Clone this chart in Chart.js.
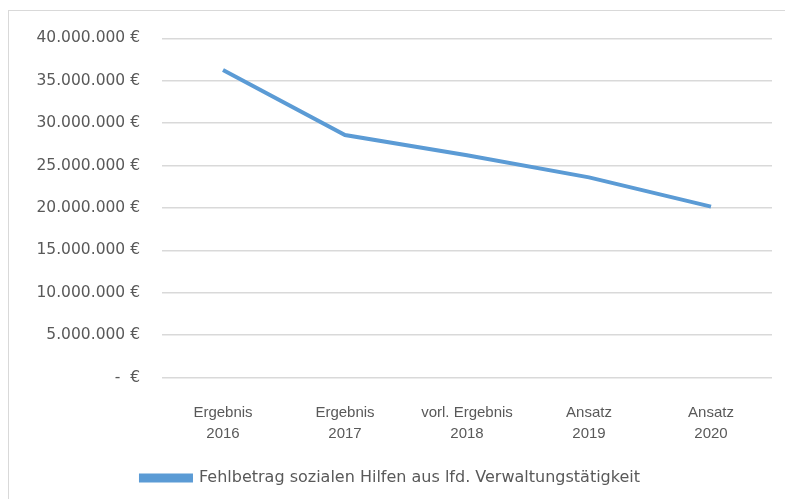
<!DOCTYPE html>
<html>
<head>
<meta charset="utf-8">
<script src="https://cdn.jsdelivr.net/npm/chart.js@4"></script>
<style>
  body { margin: 0; background: #fff; }
  #wrap {
    position: absolute; left: 8px; top: 10px;
    width: 777px; height: 489px;
    border-left: 1px solid #d9d9d9; border-top: 1px solid #d9d9d9;
  }
  canvas { display: block; margin-top: -4px; }
</style>
</head>
<body>
<div id="wrap"><canvas id="c" width="776" height="492"></canvas></div>
<script>
const categories = [
  ["Ergebnis", "2016"],
  ["Ergebnis", "2017"],
  ["vorl. Ergebnis", "2018"],
  ["Ansatz", "2019"],
  ["Ansatz", "2020"]
];
const seriesName = "Fehlbetrag sozialen Hilfen aus lfd. Verwaltungstätigkeit";
const values = [36250000, 28600000, 26200000, 23600000, 20150000];
const yMax = 40000000;
const yStep = 5000000;

const fontFam = "'Liberation Sans', sans-serif";
const wideFam = "'DejaVu Sans', sans-serif";
const textColor = "#595959";
const blue = "#5b9bd5";

function euro(v) {
  if (v === 0) return "-  €";
  return String(v).replace(/\B(?=(\d{3})+(?!\d))/g, ".") + " €";
}

new Chart(document.getElementById("c"), {
  type: "line",
  data: {
    labels: categories,
    datasets: [{
      label: seriesName,
      data: values,
      borderColor: blue,
      backgroundColor: blue,
      borderWidth: 4,
      pointRadius: 0,
      tension: 0
    }]
  },
  options: {
    responsive: false,
    animation: false,
    layout: { padding: { left: 0, right: 13, top: 6, bottom: 3 } },
    plugins: {
      legend: {
        position: "bottom",
        labels: {
          color: textColor,
          font: { family: wideFam, size: 16 },
          boxWidth: 50,
          boxHeight: 5,
          padding: 9
        }
      },
      tooltip: { enabled: false }
    },
    scales: {
      x: {
        offset: true,
        grid: { display: false },
        border: { display: false },
        ticks: {
          color: textColor,
          font: { family: fontFam, size: 15, lineHeight: 1.45 },
          padding: 16,
          maxRotation: 0
        }
      },
      y: {
        min: 0,
        max: yMax,
        afterFit: s => { s.width = 153; },
        grid: { color: "#d9d9d9", lineWidth: 1.5, drawTicks: false },
        border: { display: false },
        ticks: {
          stepSize: yStep,
          color: textColor,
          font: { family: wideFam, size: 15.5 },
          padding: 22,
          callback: v => euro(v)
        }
      }
    }
  }
});
</script>
</body>
</html>
